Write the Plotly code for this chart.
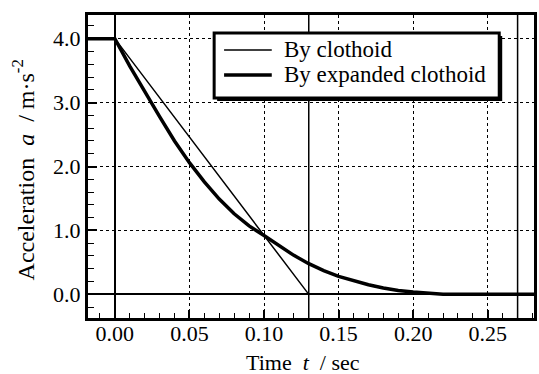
import plotly.graph_objects as go

# ---- data ----
clothoid_t = [-0.02, 0.0, 0.13, 0.30]
clothoid_a = [4.0, 4.0, 0.0, 0.0]

expanded_t = [-0.02, 0.0, 0.01, 0.02, 0.03, 0.04, 0.05, 0.06, 0.07, 0.08, 0.09, 0.10,
              0.11, 0.12, 0.13, 0.14, 0.15, 0.16, 0.17, 0.18, 0.19, 0.20, 0.21, 0.22, 0.30]
expanded_a = [4.0, 4.0, 3.57, 3.17, 2.78, 2.40, 2.06, 1.76, 1.49, 1.26, 1.07, 0.92,
              0.76, 0.61, 0.48, 0.37, 0.28, 0.21, 0.15, 0.10, 0.06, 0.035, 0.015, 0.0, 0.0]

series_names = ["By clothoid", "By expanded clothoid"]
series_widths = [1.5, 3.5]

marker_times = [0.13, 0.27]
x_ticks = [0.00, 0.05, 0.10, 0.15, 0.20, 0.25]
y_ticks = [0.0, 1.0, 2.0, 3.0, 4.0]

FONT = "Liberation Serif"

# plot-area geometry in pixels (for paper-coordinate helpers)
W, H = 539, 374
ML, MR, MT, MB = 88, 2, 15, 56
PW, PH = W - ML - MR, H - MT - MB


def px_x(px):
    return (px - ML) / PW


def px_y(py):
    return (H - MB - py) / PH


fig = go.Figure()
fig.add_trace(go.Scatter(x=clothoid_t, y=clothoid_a, mode="lines", name=series_names[0],
                         line=dict(color="black", width=series_widths[0])))
fig.add_trace(go.Scatter(x=expanded_t, y=expanded_a, mode="lines", name=series_names[1],
                         line=dict(color="black", width=series_widths[1])))

for t in marker_times:
    fig.add_shape(type="line", xref="x", yref="paper", x0=t, x1=t, y0=0, y1=1,
                  line=dict(color="black", width=1.5), layer="above")

# ---- legend box drawn with a drop shadow ----
box_l, box_r, box_t, box_b = 215, 502, 33, 98
fig.add_shape(type="rect", xref="paper", yref="paper",
              x0=px_x(box_l + 3), x1=px_x(box_r + 3), y0=px_y(box_b + 3), y1=px_y(box_t + 3),
              fillcolor="black", line=dict(width=0), layer="above")
fig.add_shape(type="rect", xref="paper", yref="paper",
              x0=px_x(box_l), x1=px_x(box_r), y0=px_y(box_b), y1=px_y(box_t),
              fillcolor="white", line=dict(color="black", width=3), layer="above")
row_y = [50, 75]
for name, lw, ry in zip(series_names, series_widths, row_y):
    fig.add_shape(type="line", xref="paper", yref="paper",
                  x0=px_x(225), x1=px_x(273), y0=px_y(ry), y1=px_y(ry),
                  line=dict(color="black", width=lw), layer="above")
    fig.add_annotation(xref="paper", yref="paper", x=px_x(283), y=px_y(ry),
                       text=name, showarrow=False, xanchor="left", yanchor="middle",
                       font=dict(family=FONT, size=23, color="black"))

# ---- axis titles ----
fig.add_annotation(xref="paper", yref="paper", x=px_x(304), y=px_y(362),
                   text="Time  <i>t</i>  / sec", showarrow=False,
                   xanchor="center", yanchor="middle",
                   font=dict(family=FONT, size=22, color="black"))
fig.add_annotation(xref="paper", yref="paper", x=px_x(23), y=px_y(170),
                   text="Acceleration  <i>a</i>  / m·s<sup>-2</sup>", showarrow=False,
                   textangle=-90, xanchor="center", yanchor="middle",
                   font=dict(family=FONT, size=24, color="black"))

fig.update_layout(
    width=W, height=H,
    margin=dict(l=ML, r=MR, t=MT, b=MB),
    paper_bgcolor="white", plot_bgcolor="white",
    font=dict(family=FONT, size=22, color="black"),
    showlegend=False,
)

fig.update_xaxes(
    range=[-0.018, 0.281], tickvals=x_ticks, tickformat=".2f",
    showline=True, linecolor="black", linewidth=3, mirror=True,
    ticks="inside", ticklen=8, tickwidth=1.5, tickcolor="black",
    minor=dict(ticks="inside", ticklen=5, tickwidth=1, tickcolor="black", dtick=0.01,
               showgrid=False),
    showgrid=True, gridcolor="black", gridwidth=1, griddash="dot",
    zeroline=True, zerolinecolor="black", zerolinewidth=2,
    tickfont=dict(family=FONT, size=22),
    ticklabelstandoff=-6,
)
fig.update_yaxes(
    range=[-0.37, 4.37], tickvals=y_ticks, tickformat=".1f",
    showline=True, linecolor="black", linewidth=3, mirror=True,
    ticks="inside", ticklen=9, tickwidth=1.5, tickcolor="black",
    minor=dict(ticks="inside", ticklen=6, tickwidth=1, tickcolor="black", dtick=0.2,
               showgrid=False),
    showgrid=True, gridcolor="black", gridwidth=1, griddash="dot",
    zeroline=True, zerolinecolor="black", zerolinewidth=2,
    tickfont=dict(family=FONT, size=22),
)

fig.write_html("out.html")
